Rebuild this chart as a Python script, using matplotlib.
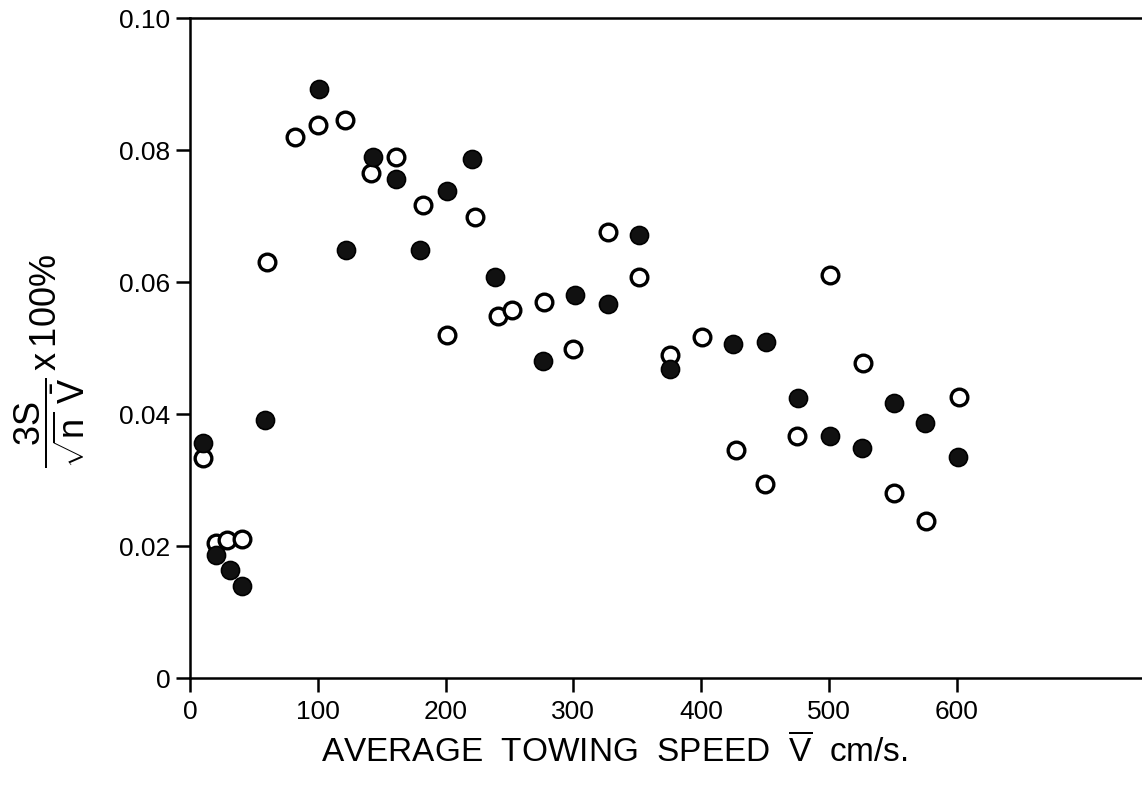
import matplotlib
matplotlib.use("Agg")
import matplotlib.pyplot as plt
from matplotlib import font_manager as fm
from matplotlib.ticker import FixedLocator, FixedFormatter

# ---- data ----
closed_x = [10, 20, 31, 41, 59, 101, 122, 143, 161, 180, 201, 221, 239, 276,
            301, 327, 351, 376, 425, 451, 476, 501, 526, 551, 575, 601]
closed_y = [0.0356, 0.0186, 0.0164, 0.0140, 0.0391, 0.0892, 0.0649, 0.0790,
            0.0756, 0.0649, 0.0738, 0.0787, 0.0608, 0.0481, 0.0580, 0.0566,
            0.0671, 0.0468, 0.0506, 0.0509, 0.0424, 0.0366, 0.0348, 0.0416,
            0.0387, 0.0335]

open_x = [10, 20, 29, 41, 60, 82, 100, 121, 142, 161, 182, 201, 223, 241, 252,
          277, 300, 327, 351, 376, 401, 427, 450, 475, 501, 527, 551, 576, 602]
open_y = [0.0334, 0.0204, 0.0209, 0.0211, 0.0630, 0.0819, 0.0838, 0.0845,
          0.0765, 0.0789, 0.0717, 0.0520, 0.0698, 0.0548, 0.0558, 0.0570,
          0.0499, 0.0675, 0.0607, 0.0490, 0.0516, 0.0345, 0.0294, 0.0367,
          0.0611, 0.0477, 0.0280, 0.0238, 0.0426]

x_ticks = [0, 100, 200, 300, 400, 500, 600]
x_tick_labels = ["0", "100", "200", "300", "400", "500", "600"]
y_ticks = [0, 0.02, 0.04, 0.06, 0.08, 0.10]
y_tick_labels = ["0", "0.02", "0.04", "0.06", "0.08", "0.10"]

# ---- fonts ----
names = {f.name for f in fm.fontManager.ttflist}
regular = "Liberation Sans" if "Liberation Sans" in names else "DejaVu Sans"
narrow = "Liberation Sans Narrow" if "Liberation Sans Narrow" in names else regular

plt.rcParams["font.family"] = [regular, "DejaVu Sans"]
plt.rcParams["mathtext.fontset"] = "custom"
plt.rcParams["mathtext.rm"] = regular
plt.rcParams["mathtext.it"] = regular
plt.rcParams["mathtext.bf"] = regular
plt.rcParams["mathtext.sf"] = regular

fig = plt.figure(figsize=(11.42, 7.89), dpi=100)
ax = fig.add_axes([190 / 1142, 111 / 789, 1 - 190 / 1142, 660 / 789])

ax.plot(open_x, open_y, linestyle="none", marker="o", markersize=12,
        markerfacecolor="white", markeredgecolor="black", markeredgewidth=2.4,
        zorder=3)
ax.plot(closed_x, closed_y, linestyle="none", marker="o", markersize=13,
        markerfacecolor="#111111", markeredgecolor="black", markeredgewidth=1.2,
        zorder=4)

ax.set_xlim(0, 745)
ax.set_ylim(0, 0.10)

ax.xaxis.set_major_locator(FixedLocator(x_ticks))
ax.xaxis.set_major_formatter(FixedFormatter(x_tick_labels))
ax.yaxis.set_major_locator(FixedLocator(y_ticks))
ax.yaxis.set_major_formatter(FixedFormatter(y_tick_labels))

ax.spines["right"].set_visible(False)
for s in ["left", "bottom", "top"]:
    ax.spines[s].set_linewidth(1.8)
ax.tick_params(axis="both", direction="out", width=1.8, length=10,
               color="black")
ax.tick_params(axis="y", labelsize=19, pad=4)
ax.tick_params(axis="x", labelsize=19, pad=6)
for lab in ax.get_xticklabels():
    lab.set_fontfamily(narrow)

ax.set_xlabel(r"AVERAGE  TOWING  SPEED  $\overline{\mathrm{V}}$  cm/s.",
              fontsize=24, fontfamily=narrow)
ax.xaxis.set_label_coords(0.446, -0.085)
ax.set_ylabel(r"$\dfrac{3\mathrm{S}}{\sqrt{\mathrm{n}}\ \bar{\mathrm{V}}}\,\mathrm{x}\,100\%$",
              fontsize=26)
ax.yaxis.set_label_coords(-0.108, 0.48)
ax.yaxis.label.set_verticalalignment("bottom")

fig.savefig("out.png", dpi=100)
